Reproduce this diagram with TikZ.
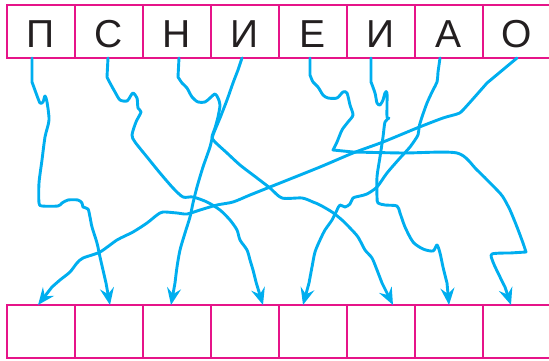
\documentclass[tikz,border=0pt]{standalone}
\usepackage{fontspec}
\setmainfont{Liberation Sans}
\usetikzlibrary{arrows.meta}
\definecolor{rim}{RGB}{230,20,137}
\definecolor{maze}{RGB}{0,174,239}
\definecolor{ink}{RGB}{35,31,32}

\begin{document}
\begin{tikzpicture}[x=1pt,y=-1pt,
box/.style={draw=rim,line width=1.8pt,minimum width=68pt,minimum height=53pt,inner sep=0pt,outer sep=0pt,
  text height=33pt,text depth=0pt,text=ink,font=\fontsize{39}{39}\selectfont},
wire/.style={draw=maze,line width=2.9pt,line cap=round,line join=round,-{Stealth[length=17pt,width=14pt,inset=6pt]}},
wig/.style={smooth,tension=0.45}]
\useasboundingbox (0,0) rectangle (549,361);
\foreach \l [count=\i] in {П,С,Н,И,Е,И,А,О} \node[box] (t\i) at ({68*\i-27},31.5) {\l};
\foreach \i in {1,...,8} \node[box] (b\i) at ({68*\i-27},331.5) {};
\draw[wire] ([xshift=-9pt]t1.south) -- plot[wig] coordinates {(32,82) (36,93) (40,103) (43,102) (45,96) (47,102) (49,120) (45,137)
  (42,160) (39,183) (39,203) (42,206) (58,206) (62,203) (68,200) (78,200) (82,203) (83,207) (88,209) (90,217) (92,227)
  (97,243) (100,257) (103,270) (106,283)} -- ([xshift=1pt]b2.north);
\draw[wire] ([xshift=-1pt]t2.south) -- plot[wig] coordinates {(107,77) (110,83) (115,92) (120,100) (127,101) (130,97) (133,93)
  (137,98) (138,108) (141,112) (136,122) (132,135) (135,142) (147,157) (160,173) (173,188) (183,197) (193,197) (207,202)
  (220,210) (230,220) (237,230) (240,240) (247,250) (250,260) (253,270) (256,282)} -- ([xshift=18pt]b4.north);
\draw[wire] ([xshift=2pt]t3.south) -- plot[wig] coordinates {(178,77) (182,83) (187,88) (192,97) (198,102) (205,102) (210,98)
  (215,94) (218,98) (220,105) (218,117) (215,128) (212,137) (215,142) (227,153) (240,165) (257,178) (270,188) (282,198)
  (302,198) (313,202) (320,205) (332,212) (342,220) (350,228) (358,237) (365,250) (372,258) (377,270) (382,283)}
  -- ([xshift=12pt]b6.north);
\draw[wire] ([xshift=-3pt]t4.south) -- plot[wig] coordinates {(238,70) (233,83) (227,100) (220,118) (213,135) (210,147)
  (203,167) (197,187) (193,203) (190,217) (185,233) (180,250) (177,267) (175,283)} -- ([xshift=-6pt]b3.north);
\draw[wire] ([xshift=-3pt]t5.south) -- plot[wig] coordinates {(310,75) (313,82) (318,87) (323,95) (328,98) (337,98) (343,92)
  (347,93) (350,105) (353,115) (348,122) (342,130) (337,142) (333,150)} -- plot[wig] coordinates {(353,152) (403,153)
  (457,153) (477,170) (497,190) (503,197) (510,210) (517,227) (523,243) (526,252)} -- plot[wig] coordinates {(510,253)
  (492,254) (493,262) (500,277) (505,287)} -- ([xshift=-6pt]b8.north);
\draw[wire] ([xshift=-10pt]t6.south) -- plot[wig] coordinates {(371,82) (375,93) (377,103) (380,105) (383,100) (385,93)
  (387,93) (387,117) (389,118) (385,122) (383,137) (380,157) (377,177) (377,197) (378,203) (385,205) (397,206) (400,213)
  (405,227) (413,242) (423,249) (433,251) (437,245) (440,253) (443,267) (447,283)} -- (b7.north);
\draw[wire] ([xshift=-9pt]t7.south) -- plot[wig] coordinates {(438,72) (437,82) (433,90) (427,103) (422,117) (419,127)
  (418,135) (410,147) (400,158) (387,173) (377,187) (367,194) (360,196) (353,198) (350,204) (345,207) (340,205) (337,210)
  (332,220) (325,230) (320,240) (315,252) (312,267) (309,283)} -- ([xshift=-10pt]b5.north);
\draw[wire] (t8.south) -- plot[wig] coordinates {(487,83) (463,110) (457,114) (443,118) (417,128) (383,142) (353,153)
  (320,167) (270,187) (250,195) (233,202) (217,205) (200,210) (187,214) (177,213) (163,212) (157,215) (147,223) (133,232)
  (117,240) (100,252) (83,258) (77,263) (70,272) (60,280) (52,287)} -- ([xshift=-3pt]b1.north);
\end{tikzpicture}
\end{document}
